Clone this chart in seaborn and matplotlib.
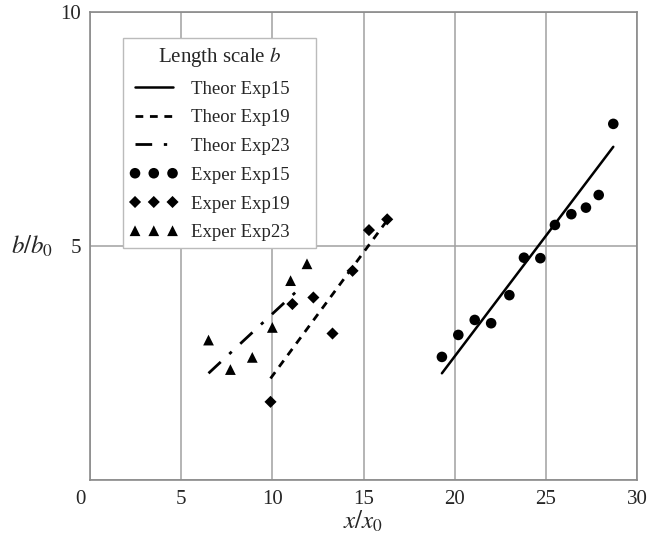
import matplotlib
matplotlib.use("Agg")
import matplotlib.pyplot as plt
import matplotlib.transforms as mtransforms
import seaborn as sns
from matplotlib.ticker import MultipleLocator

# -----------------------------------
# Data
# -----------------------------------
exp15_x = [19.3, 20.2, 21.1, 22.0, 23.0, 23.8, 24.7, 25.5, 26.4, 27.2, 27.9, 28.7]
exp15_y = [2.63, 3.10, 3.42, 3.35, 3.95, 4.75, 4.74, 5.45, 5.68, 5.82, 6.09, 7.61]

exp19_x = [9.9, 11.1, 12.25, 13.3, 14.4, 15.3, 16.3]
exp19_y = [1.67, 3.76, 3.90, 3.13, 4.47, 5.34, 5.57]

exp23_x = [6.5, 7.7, 8.9, 10.0, 11.0, 11.9]
exp23_y = [2.99, 2.36, 2.62, 3.26, 4.26, 4.62]

theor15_x = [19.3, 28.7]
theor15_y = [2.28, 7.12]
theor19_x = [9.9, 16.3]
theor19_y = [2.17, 5.55]
theor23_x = [6.5, 11.6]
theor23_y = [2.28, 4.13]

# -----------------------------------
# Style
# -----------------------------------
sns.set_style("white")
plt.rcParams["font.family"] = ["Liberation Serif", "DejaVu Serif"]
plt.rcParams["mathtext.fontset"] = "stix"

fig = plt.figure(figsize=(6.49, 5.47), dpi=100)
ax = fig.add_axes([0.1387, 0.1225, 0.8428, 0.8555])

sns.lineplot(x=theor15_x, y=theor15_y, ax=ax, color="black", lw=1.8,
             label="Theor Exp15")
sns.lineplot(x=theor19_x, y=theor19_y, ax=ax, color="black", lw=2.0,
             label="Theor Exp19")
sns.lineplot(x=theor23_x, y=theor23_y, ax=ax, color="black", lw=2.0,
             label="Theor Exp23")
ax.lines[1].set_dashes([2.8, 2.4])
ax.lines[2].set_dashes([6, 4.2, 1.2, 4.2])

sns.scatterplot(x=exp15_x, y=exp15_y, ax=ax, color="black", marker="o",
                s=58, edgecolor="none", label="Exper Exp15")
sns.scatterplot(x=exp19_x, y=exp19_y, ax=ax, color="black", marker="D",
                s=38, edgecolor="none", label="Exper Exp19")
sns.scatterplot(x=exp23_x, y=exp23_y, ax=ax, color="black", marker="^",
                s=60, edgecolor="none", label="Exper Exp23")

ax.set_xlim(0, 30)
ax.set_ylim(0, 10)
ax.set_xticks([0, 5, 10, 15, 20, 25, 30])
ax.set_yticks([0, 5, 10])
ax.set_yticklabels(["", "5", "10"])
ax.xaxis.set_minor_locator(MultipleLocator(2.5))
ax.yaxis.set_minor_locator(MultipleLocator(2.5))
ax.tick_params(axis="both", which="major", labelsize=15, direction="inout",
               length=6, color="#888888", width=1)
ax.tick_params(axis="both", which="minor", direction="in", length=3,
               color="#aaaaaa", width=1)
ax.tick_params(axis="x", which="major", pad=4)

# origin label sits a bit to the left in the original
zero_lbl = ax.xaxis.get_major_ticks()[0].label1
zero_lbl.set_transform(zero_lbl.get_transform() +
                       mtransforms.ScaledTranslation(-10 / 100, 0, fig.dpi_scale_trans))

ax.grid(True, which="major", color="#a0a0a0", lw=1.1)
for sp in ax.spines.values():
    sp.set_color("#8a8a8a")
    sp.set_linewidth(1.2)

ax.set_xlabel(r"$x/x_0$", fontsize=18, labelpad=0)
ax.set_ylabel(r"$b/b_0$", fontsize=18, rotation=0, ha="center", va="center")
ax.yaxis.set_label_coords(-0.106, 0.5)

leg = ax.legend(title=r"Length scale $b$", loc="upper left",
                bbox_to_anchor=(0.06, 0.4765, 0.353, 0.4675), mode="expand",
                borderaxespad=0, fontsize=13.5, title_fontsize=15,
                numpoints=3, scatterpoints=3, scatteryoffsets=[0.5, 0.5, 0.5],
                handlelength=2.6, labelspacing=0.62, borderpad=0.35,
                handletextpad=0.7, frameon=True, fancybox=False, framealpha=1,
                edgecolor="#bbbbbb", alignment="center")
leg.get_frame().set_linewidth(1.0)

fig.savefig("out.png", dpi=100)
